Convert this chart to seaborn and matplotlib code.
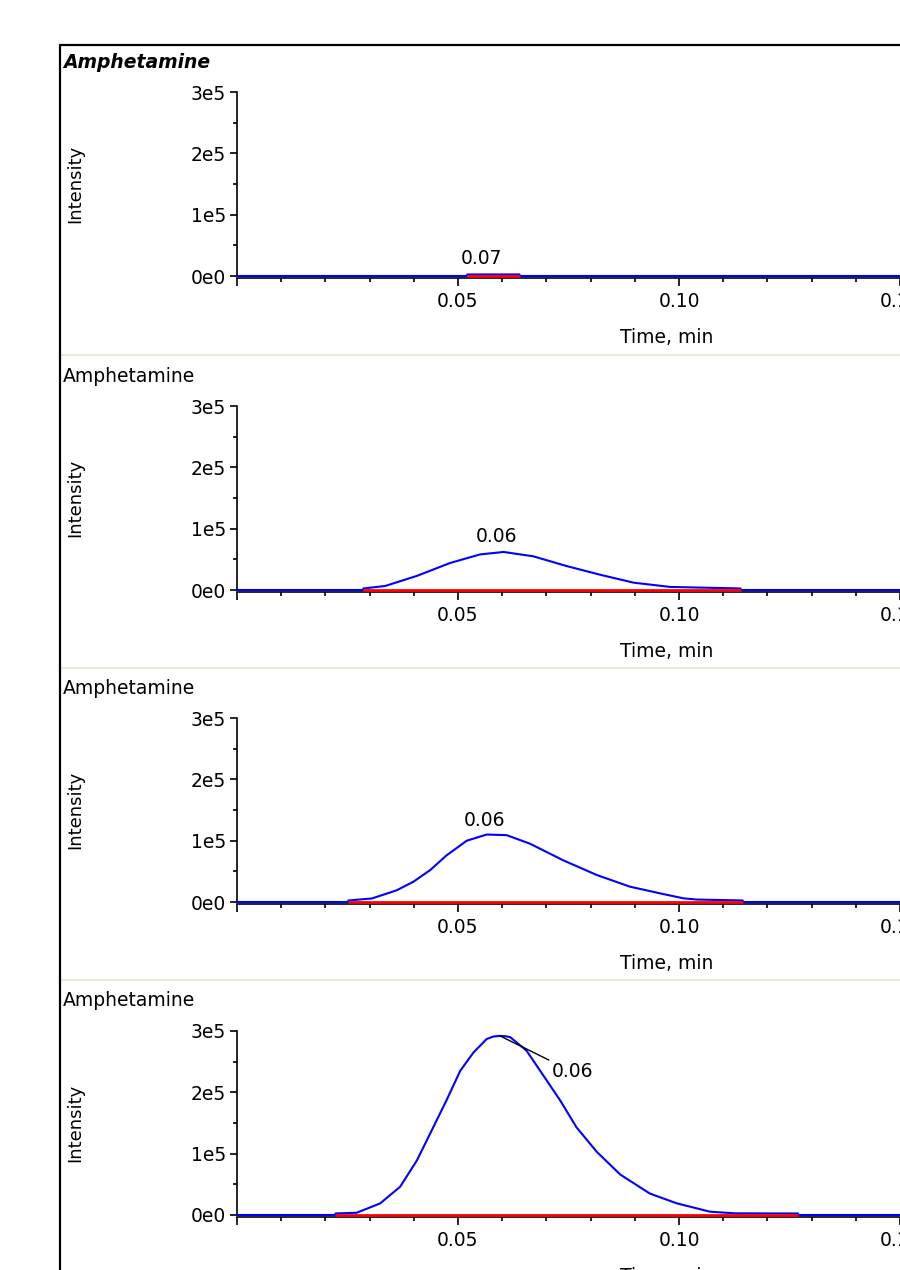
import matplotlib
matplotlib.use("Agg")
import matplotlib.pyplot as plt
import matplotlib.ticker as mticker
from matplotlib.lines import Line2D
import pandas as pd
import seaborn as sns

sns.set_style("ticks")
plt.rcParams["font.family"] = ["DejaVu Sans"]

compound = "Amphetamine"

# chromatogram traces, one per panel (time in min, intensity in counts)
t1 = [0.0, 0.052, 0.0521, 0.0639, 0.064, 0.2]
i1 = [0, 0, 2500, 2500, 0, 0]

t2 = [0.0, 0.0285, 0.0286, 0.0335, 0.0407, 0.0482, 0.055, 0.0603, 0.067, 0.0746,
      0.0821, 0.0897, 0.098, 0.1139, 0.114, 0.2]
i2 = [0, 0, 2500, 6500, 23000, 44000, 58000, 62000, 55000, 39000,
      25000, 12000, 5000, 2500, 0, 0]

t3 = [0.0, 0.0251, 0.0252, 0.0305, 0.0361, 0.0399, 0.0437, 0.0474, 0.052, 0.0565,
      0.061, 0.0663, 0.0738, 0.0814, 0.0889, 0.0964, 0.101, 0.104, 0.1144,
      0.1145, 0.2]
i3 = [0, 0, 2500, 5700, 19000, 33000, 52000, 76000, 100000, 110000,
      109000, 95000, 68000, 44000, 25000, 13000, 6000, 4000, 2500, 0, 0]

t4 = [0.0, 0.0222, 0.0223, 0.0271, 0.0324, 0.0369, 0.0407, 0.0444, 0.0474,
      0.0505, 0.0535, 0.0565, 0.058, 0.0595, 0.0607, 0.0618, 0.0655, 0.0686,
      0.0731, 0.0768, 0.0814, 0.0867, 0.0934, 0.0995, 0.107, 0.1127, 0.1269,
      0.127, 0.2]
i4 = [0, 0, 2500, 3700, 19000, 46000, 89000, 143000, 187000,
      235000, 265000, 287000, 291000, 292000, 291500, 290000, 268000, 235000,
      187000, 143000, 103000, 66000, 35000, 19000, 5400, 2700, 2500,
      0, 0]

traces = [(t1, i1), (t2, i2), (t3, i3), (t4, i4)]

# integration baselines (start, end)
base_start = [0.052, 0.0285, 0.0251, 0.0222]
base_end = [0.064, 0.114, 0.1145, 0.127]

# retention time labels
rt_labels = ["0.07", "0.06", "0.06", "0.06"]
rt_x = [0.0554, 0.0588, 0.0559, 0.0713]
rt_y = [29000, 88000, 133000, 250000]
apex = [None, None, None, (0.0595, 292000)]

W, H = 900, 1270
fig = plt.figure(figsize=(W / 100, H / 100), dpi=100)

axis_left = 237
axis_w = 884
axis_h = 184
zero_rows = [276, 590, 902, 1215]
fs = 13.5

for k, (tt, ii) in enumerate(traces):
    y0 = zero_rows[k]
    ax = fig.add_axes([axis_left / W, 1 - y0 / H, axis_w / W, axis_h / H])
    ax.set_facecolor("none")
    df = pd.DataFrame({"time": tt, "intensity": ii})

    sns.lineplot(data=df, x="time", y="intensity", color="#0000ff", lw=1.5,
                 ax=ax, zorder=3)
    ax.hlines(0, base_start[k], base_end[k], color="#ff0000", lw=2.0, zorder=4,
              clip_on=False)
    for ln in ax.lines:
        ln.set_clip_on(False)

    ax.set_xlim(0, 0.2)
    ax.set_ylim(0, 300000)
    sns.despine(ax=ax)
    ax.spines["bottom"].set_position(("outward", 1.5))
    for s in ["left", "bottom"]:
        ax.spines[s].set_color("black")
        ax.spines[s].set_linewidth(1.2)

    ax.xaxis.set_major_locator(mticker.MultipleLocator(0.05))
    ax.xaxis.set_minor_locator(mticker.MultipleLocator(0.01))
    ax.xaxis.set_major_formatter(
        mticker.FuncFormatter(lambda v, p: "" if abs(v) < 1e-9 else f"{v:.2f}"))
    ax.yaxis.set_major_locator(mticker.MultipleLocator(100000))
    ax.yaxis.set_minor_locator(mticker.MultipleLocator(50000))
    ax.yaxis.set_major_formatter(
        mticker.FuncFormatter(lambda v, p: f"{int(round(v / 1e5))}e{0 if v < 1 else 5}"))
    ax.tick_params(which="major", length=5, width=1.2, color="black",
                   labelsize=fs, labelcolor="black", pad=3)
    ax.tick_params(which="minor", length=3, width=1.2, color="black")
    ax.tick_params(axis="x", which="major", length=6, pad=4)

    ax.set_xlabel("Time, min", fontsize=fs, color="black")
    ax.xaxis.set_label_coords((667 - axis_left) / axis_w, -52 / axis_h)
    ax.set_ylabel("")

    if apex[k] is None:
        ax.text(rt_x[k], rt_y[k], rt_labels[k], ha="center", va="center",
                fontsize=fs, color="black")
    else:
        ax.annotate(rt_labels[k], xy=apex[k], xytext=(rt_x[k], rt_y[k]),
                    ha="left", va="top", fontsize=fs, color="black",
                    arrowprops=dict(arrowstyle="-", color="black", lw=1,
                                    relpos=(0, 1), shrinkA=0, shrinkB=0))

    fig.text(75 / W, 1 - (y0 - axis_h / 2) / H, "Intensity", rotation=90,
             ha="center", va="center", fontsize=fs - 0.5, color="black")
    title_y = y0 - axis_h - 30
    if k == 0:
        fig.text(63 / W, 1 - title_y / H, compound, ha="left", va="center",
                 fontsize=fs, weight="bold", style="italic", color="black")
    else:
        fig.text(63 / W, 1 - title_y / H, compound, ha="left", va="center",
                 fontsize=fs, color="black")

# panel separators and window frame
for sy in [355, 668, 980]:
    fig.add_artist(Line2D([61 / W, 1], [1 - sy / H] * 2, color="#ece9d8", lw=1.5))
fig.add_artist(Line2D([60 / W, 60 / W], [0, 1 - 45 / H], color="black", lw=1.6))
fig.add_artist(Line2D([60 / W, 1], [1 - 45 / H] * 2, color="black", lw=1.6))

fig.savefig("out.png", dpi=100, facecolor="white")
